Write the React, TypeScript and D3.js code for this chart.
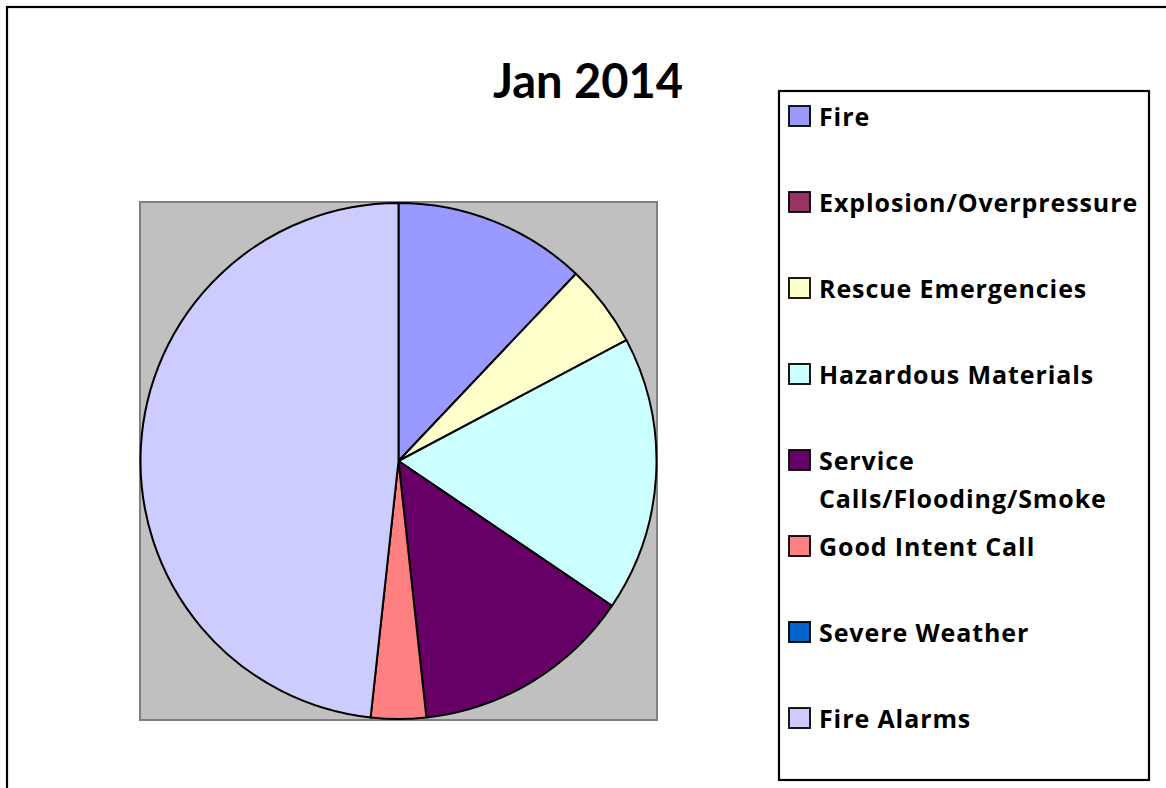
import React from "react";
import * as d3 from "d3";

const title = "Jan 2014";
const categories = [
  "Fire",
  "Explosion/Overpressure",
  "Rescue Emergencies",
  "Hazardous Materials",
  "Service Calls/Flooding/Smoke",
  "Good Intent Call",
  "Severe Weather",
  "Fire Alarms",
];
const legendLines = [
  ["Fire"],
  ["Explosion/Overpressure"],
  ["Rescue Emergencies"],
  ["Hazardous Materials"],
  ["Service", "Calls/Flooding/Smoke"],
  ["Good Intent Call"],
  ["Severe Weather"],
  ["Fire Alarms"],
];
const values = [7, 0, 3, 10, 8, 2, 0, 28];
const colors = ["#9999FF", "#993366", "#FFFFCC", "#CCFFFF", "#660066", "#FF8080", "#0066CC", "#CCCCFF"];

const W = 1166;
const H = 788;
const FONT = "Lato, 'Open Sans', sans-serif";
const LFONT = "'Open Sans', Lato, sans-serif";

export default function App() {
  const plot = { x: 140, y: 202, w: 517, h: 518 };
  const cx = plot.x + plot.w / 2;
  const cy = plot.y + plot.h / 2;
  const r = 258;
  const data = categories.map((c, i) => ({ c, v: values[i], color: colors[i] }));
  const pie = d3.pie<any>().value((d) => d.v).sort(null).startAngle(0).endAngle(2 * Math.PI);
  const arcs = pie(data).filter((a) => a.data.v > 0);
  const arcGen = d3.arc<any>().innerRadius(0).outerRadius(r);
  const legendY = d3.scaleLinear().domain([0, 7]).range([126, 728]);

  return (
    <svg width={W} height={H} style={{ position: "absolute", left: 0, top: 0 }}>
      <rect x={0} y={0} width={W} height={H} fill="#fff" />
      <rect x={7} y={7} width={W + 20} height={H + 20} fill="#fff" stroke="#000" strokeWidth={2.2} />
      <text x={588} y={98} textAnchor="middle" fontFamily={FONT} fontWeight="bold" fontSize={47} fill="#000">
        {title}
      </text>
      <rect x={plot.x} y={plot.y} width={plot.w} height={plot.h} fill="#C0C0C0" stroke="#808080" strokeWidth={2} />
      <g transform={`translate(${cx},${cy})`}>
        {arcs.map((a, i) => (
          <path key={i} d={arcGen(a) as string} fill={a.data.color} stroke="#000" strokeWidth={2} strokeLinejoin="round" />
        ))}
      </g>
      <rect x={779} y={91} width={370} height={689} fill="#fff" stroke="#000" strokeWidth={2.2} />
      {legendLines.map((lines, i) => {
        const y = legendY(i);
        return (
          <g key={i}>
            <rect x={789} y={y - 20} width={21} height={20} fill={colors[i]} stroke="#000" strokeWidth={1.8} />
            {lines.map((l, j) => (
              <text key={j} x={819} y={y + j * 38} fontFamily={LFONT} fontWeight="bold" fontSize={25} letterSpacing={0.9} fill="#000">
                {l}
              </text>
            ))}
          </g>
        );
      })}
    </svg>
  );
}
